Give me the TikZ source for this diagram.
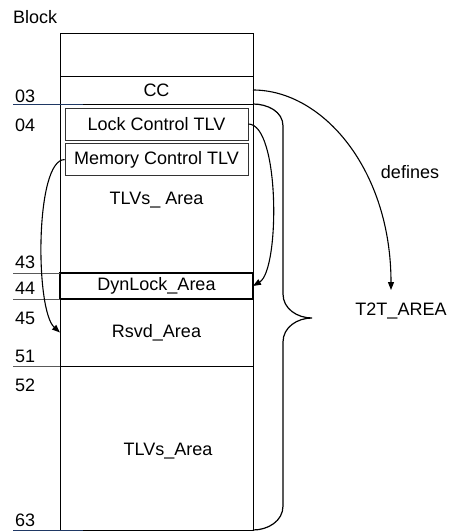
\documentclass[tikz,border=0pt]{standalone}
\usepackage{fontspec}
\setmainfont{Liberation Sans}
\usetikzlibrary{
  arrows.meta,
  positioning,
  calc
}
\definecolor{ruler}{RGB}{31,56,100}

\begin{document}
\begin{tikzpicture}[x=1pt, y=-1pt,
  every node/.style={font=\fontsize{18}{21}\selectfont},
  row/.style={draw, line width=0.8pt, minimum width=193pt, inner sep=0pt,
              outer sep=0pt, anchor=north west},
  tlvbox/.style={draw=black!80, line width=0.6pt, minimum width=183pt,
                 minimum height=32pt, inner sep=0pt},
  num/.style={anchor=west, inner sep=0pt},
  tick/.style={draw=black!65, line width=0.7pt},
  link/.style={-{Triangle[length=8pt,width=6pt]}, line width=1.1pt}]
  \useasboundingbox (0,0) rectangle (449,532);

  % block rows
  \node[row, minimum height=43pt] (blank) at (60,33) {};
  \node[row, minimum height=28pt] (cc) at (blank.south west) {CC};
  \node[row, minimum height=169pt] (tlvarea) at (cc.south west) {};
  \node[row, minimum height=26pt, line width=1.8pt] (dyn) at (tlvarea.south west) {DynLock\_Area};
  \node[row, minimum height=67pt] (rsvd) at (dyn.south west) {Rsvd\_Area};
  \node[row, minimum height=164pt] (tlvs) at (rsvd.south west) {};

  \node[tlvbox] (lock) at (156.5,124) {Lock Control TLV};
  \node[tlvbox, below=3pt of lock] (mem) {Memory Control TLV};
  \node (tlvtext) at (156.5,200) {TLVs\_ Area};
  \node (tlvstext) at (168,451) {TLVs\_Area};

  % block numbers
  \node[num] (blocklbl) at (13,17) {Block};
  \node[num] (n03) at (15,96) {03};
  \node[num] (n04) at (15,125) {04};
  \node[num] (n43) at (15,262) {43};
  \node[num] (n44) at (15,288) {44};
  \node[num] (n45) at (15,318) {45};
  \node[num] (n51) at (15,356) {51};
  \node[num] (n52) at (15,385) {52};
  \node[num] (n63) at (15,520) {63};
  \draw[draw=ruler, line width=0.8pt] (cc.south west) ++(-47,0) -- ++(70,0);
  \draw[tick] (dyn.north west) -- ++(-47,0);
  \draw[tick] (dyn.south west) -- ++(-47,0);
  \draw[tick] (tlvs.north west) -- ++(-47,0);
  \draw[draw=ruler, line width=0.8pt] (tlvs.south west) ++(-47,0) -- ++(70,0);

  % references
  \coordinate (deftip) at (391,290);
  \draw[link] (cc.east) .. controls (323,90) and (391,170) .. (deftip);
  \draw[link] (lock.east) .. controls (280,124) and (280,270) .. (dyn.east);
  \draw[link] (mem.west) .. controls (35,159) and (35,310) .. (rsvd.west);
  \node (defines) at (410,172) {defines};

  % brace over the T2T area
  \coordinate (bracetip) at (312,318);
  \draw[line width=1.2pt] (cc.south east) to[out=0, in=90] (283,126)
    -- (283,294) to[out=-90, in=180] (bracetip)
    to[out=180, in=90] (283,342) -- (283,506)
    to[out=-90, in=0] (tlvs.south east);
  \node (t2t) at (401,311) {T2T\_AREA};
\end{tikzpicture}
\end{document}
